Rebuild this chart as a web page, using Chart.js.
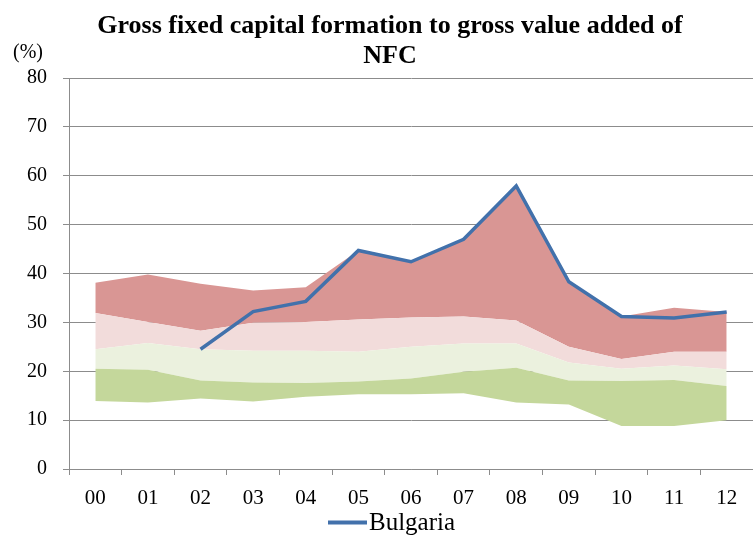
<!DOCTYPE html>
<html>
<head>
<meta charset="utf-8">
<script src="https://cdn.jsdelivr.net/npm/chart.js@4"></script>
<style>
  html, body { margin: 0; padding: 0; background: #ffffff; }
  #wrap { width: 753px; height: 535px; position: relative; }
</style>
</head>
<body>
<div id="wrap"><canvas id="c" width="753" height="535"></canvas></div>
<script>
// ---- data ----
const categories = ['00','01','02','03','04','05','06','07','08','09','10','11','12'];
const bandMin   = [13.9, 13.6, 14.4, 13.8, 14.8, 15.3, 15.3, 15.5, 13.6, 13.2,  8.8,  8.8, 10.0];
const bandLow   = [20.5, 20.3, 18.1, 17.7, 17.6, 17.9, 18.5, 19.9, 20.7, 18.1, 18.0, 18.2, 17.0];
const bandMid   = [24.5, 25.8, 24.5, 24.2, 24.2, 24.0, 25.0, 25.7, 25.7, 21.8, 20.5, 21.2, 20.4];
const bandHigh  = [31.9, 30.1, 28.3, 29.9, 30.1, 30.6, 31.0, 31.2, 30.4, 25.0, 22.5, 24.0, 24.0];
const bandMax   = [38.1, 39.8, 37.9, 36.5, 37.2, 44.7, 42.4, 47.0, 57.9, 38.3, 31.2, 33.0, 32.1];
const bulgaria  = [null, null, 24.5, 32.2, 34.3, 44.7, 42.4, 47.0, 57.9, 38.3, 31.2, 30.9, 32.1];
const yTicks    = [0, 10, 20, 30, 40, 50, 60, 70, 80];
const titleLines = ['Gross fixed capital formation to gross value added of', 'NFC'];
const unitLabel = '(%)';
const seriesName = 'Bulgaria';

const SERIF = "'Liberation Serif', 'Times New Roman', serif";
const GRID = '#8c8c8c';
const LINE_COLOR = '#4271ab';

function band(label, data, color) {
  return {
    label, data,
    backgroundColor: color,
    borderColor: color,
    borderWidth: 0,
    pointRadius: 0,
    fill: '-1',
    tension: 0,
    order: 1
  };
}

const textPlugin = {
  id: 'textPlugin',
  afterDraw(chart) {
    const ctx = chart.ctx;
    ctx.save();
    ctx.fillStyle = '#000';
    ctx.textAlign = 'center';
    ctx.textBaseline = 'alphabetic';
    ctx.font = 'bold 26px ' + SERIF;
    ctx.fillText(titleLines[0], 390, 33);
    ctx.fillText(titleLines[1], 390, 63);
    ctx.textAlign = 'left';
    ctx.font = '20px ' + SERIF;
    ctx.fillText(unitLabel, 13, 58);
    // legend (single series)
    const ds = chart.data.datasets.find(d => d.label === seriesName);
    ctx.strokeStyle = ds.borderColor;
    ctx.lineWidth = 4;
    ctx.beginPath();
    ctx.moveTo(328, 522.5);
    ctx.lineTo(367, 522.5);
    ctx.stroke();
    ctx.fillStyle = '#000';
    ctx.font = '25px ' + SERIF;
    ctx.textBaseline = 'alphabetic';
    ctx.fillText(ds.label, 369, 529.5);
    ctx.restore();
  }
};

new Chart(document.getElementById('c'), {
  type: 'line',
  data: {
    labels: categories,
    datasets: [
      { label: 'min', data: bandMin, borderWidth: 0, pointRadius: 0, fill: false, backgroundColor: 'rgba(0,0,0,0)', borderColor: 'rgba(0,0,0,0)', order: 1 },
      band('low', bandLow, '#c4d79b'),
      band('mid', bandMid, '#ebf1de'),
      band('high', bandHigh, '#f2dcdb'),
      band('max', bandMax, '#d99694'),
      {
        label: seriesName,
        data: bulgaria,
        borderColor: LINE_COLOR,
        backgroundColor: LINE_COLOR,
        borderWidth: 3.5,
        pointRadius: 0,
        fill: false,
        tension: 0,
        order: 0
      }
    ]
  },
  options: {
    responsive: false,
    animation: false,
    devicePixelRatio: 1,
    layout: { padding: { top: 78, left: 0, right: 0, bottom: 27 } },
    plugins: {
      title: { display: false },
      tooltip: { enabled: false },
      legend: { display: false }
    },
    scales: {
      x: {
        type: 'category',
        offset: true,
        grid: { offset: true, drawOnChartArea: false, drawTicks: true, tickLength: 6, color: GRID },
        border: { color: GRID, width: 1 },
        ticks: { color: '#000', font: { family: SERIF, size: 21 }, padding: 11, maxRotation: 0, autoSkip: false },
        afterFit(s) { s.height = 39; }
      },
      y: {
        min: 0, max: 80,
        afterBuildTicks(s) { s.ticks = yTicks.map(v => ({ value: v })); },
        grid: { color: GRID, lineWidth: 1, tickLength: 6, drawTicks: true },
        border: { color: GRID, width: 1 },
        ticks: { color: '#000', font: { family: SERIF, size: 20 }, padding: 16 },
        afterFit(s) { s.width = 69; }
      }
    }
  },
  plugins: [textPlugin]
});
</script>
</body>
</html>
